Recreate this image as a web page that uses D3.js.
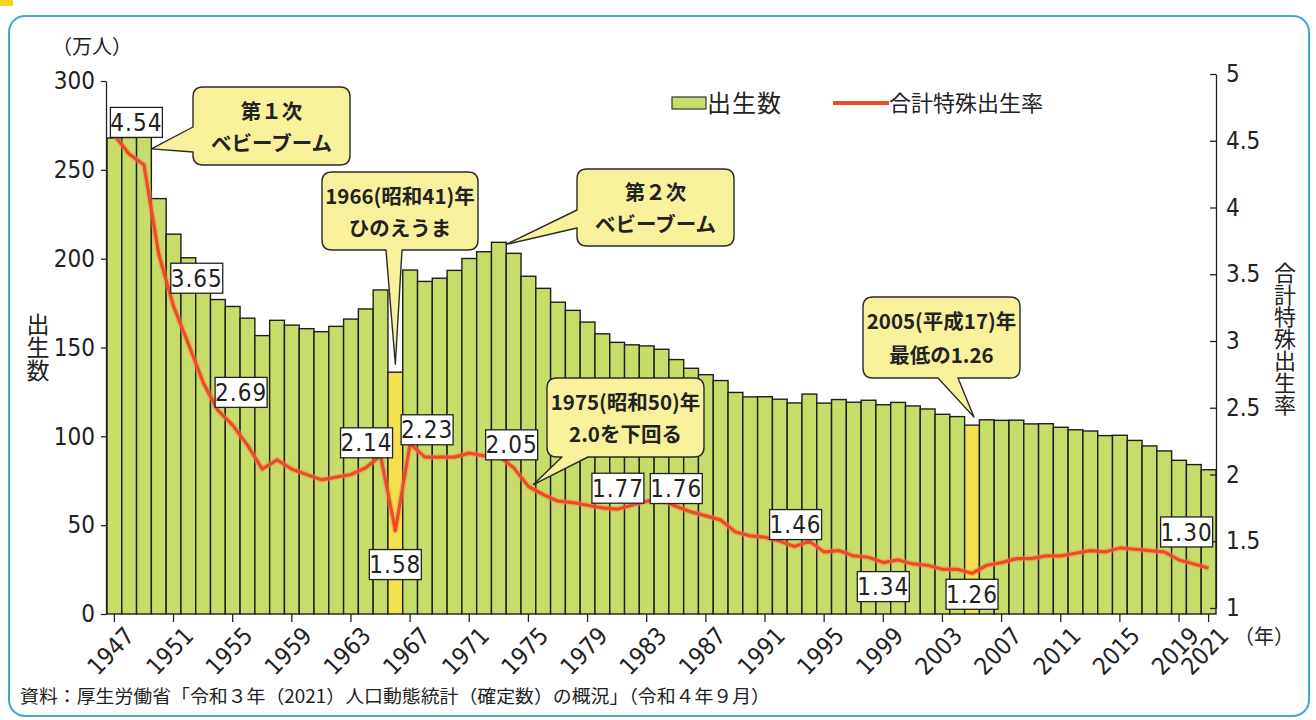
<!DOCTYPE html>
<html><head><meta charset="utf-8">
<script src="https://cdn.jsdelivr.net/npm/d3@7"></script>
<style>
html,body{margin:0;padding:0;background:#fff;}
svg{display:block;}
.num{font-family:"Liberation Sans Narrow","DejaVu Sans Condensed","Roboto Condensed",sans-serif;}
.jp{font-family:"Noto Sans CJK JP",sans-serif;}
</style></head><body>
<svg id="c" width="1316" height="720"></svg>
<script>
// ---------------- data ----------------
const years = [1947,1948,1949,1950,1951,1952,1953,1954,1955,1956,1957,1958,1959,1960,1961,1962,1963,1964,1965,1966,1967,1968,1969,1970,1971,1972,1973,1974,1975,1976,1977,1978,1979,1980,1981,1982,1983,1984,1985,1986,1987,1988,1989,1990,1991,1992,1993,1994,1995,1996,1997,1998,1999,2000,2001,2002,2003,2004,2005,2006,2007,2008,2009,2010,2011,2012,2013,2014,2015,2016,2017,2018,2019,2020,2021];
// 出生数（万人）
const births = [267.9,268.2,269.7,233.8,213.8,200.5,186.8,177.0,173.1,166.5,156.7,165.3,162.6,160.6,158.9,161.9,166.0,171.7,182.4,136.1,193.6,187.2,189.0,193.4,200.1,203.9,209.2,203.0,190.1,183.3,175.5,170.9,164.3,157.7,152.9,151.5,150.9,149.0,143.2,138.3,134.7,131.4,124.7,122.2,122.3,120.9,118.8,123.8,118.7,120.7,119.2,120.3,117.8,119.1,117.1,115.4,112.4,111.1,106.3,109.3,109.0,109.1,107.0,107.1,105.1,103.7,103.0,100.4,100.6,97.7,94.6,91.8,86.5,84.1,81.2];
// 合計特殊出生率
const tfr = [4.54,4.40,4.32,3.65,3.26,2.98,2.69,2.48,2.37,2.22,2.04,2.11,2.04,2.00,1.96,1.98,2.00,2.05,2.14,1.58,2.23,2.13,2.13,2.13,2.16,2.14,2.14,2.05,1.91,1.85,1.80,1.79,1.77,1.75,1.74,1.77,1.80,1.81,1.76,1.72,1.69,1.66,1.57,1.54,1.53,1.50,1.46,1.50,1.42,1.43,1.39,1.38,1.34,1.36,1.33,1.32,1.29,1.29,1.26,1.32,1.34,1.37,1.37,1.39,1.39,1.41,1.43,1.42,1.45,1.44,1.43,1.42,1.36,1.33,1.30];
const tickYears = [1947,1951,1955,1959,1963,1967,1971,1975,1979,1983,1987,1991,1995,1999,2003,2007,2011,2015,2019,2021];
const leftTicks = [0,50,100,150,200,250,300];
const rightTicks = [1,1.5,2,2.5,3,3.5,4,4.5,5];
const highlightYears = [1966,2005];
const labelYears = [1947,1950,1953,1965,1966,1967,1974,1982,1985,1993,1999,2005,2021];
const calloutTexts = [
  ["第１次","ベビーブーム"],
  ["1966(昭和41)年","ひのえうま"],
  ["第２次","ベビーブーム"],
  ["1975(昭和50)年","2.0を下回る"],
  ["2005(平成17)年","最低の1.26"]
];
const legendNames = ["出生数","合計特殊出生率"];
const sourceText = "資料：厚生労働省「令和３年（2021）人口動態統計（確定数）の概況」（令和４年９月）";

// ---------------- layout ----------------
const labelOffsets = [[22,-13],[38,24],[38,10],[-14,-13],[0,34],[17,-14],[-2,-23],[-14,-17],[0,-18],[1,-22],[0,24],[0,21],[-22,-36]];
const GREEN = "#c6de69", YELLOW = "#f4e04c", RED = "#ee4a26", CALL = "#f8f19c";

const svg = d3.select("#c");
const x = d3.scaleBand().domain(years).range([107,1216]).padding(0);
const bw = x.bandwidth();
const yL = d3.scaleLinear().domain([0,300]).range([614,81]);
const yR = d3.scaleLinear().domain([1,5]).range([608,74]);

// frame
svg.append("rect").attr("x",9).attr("y",16).attr("width",1300).attr("height",700)
  .attr("rx",16).attr("fill","#fff").attr("stroke","#4aa3d8").attr("stroke-width",2);
svg.append("rect").attr("x",0).attr("y",0).attr("width",13).attr("height",6).attr("fill","#f1d21c");

// bars
const data = years.map((yr,i)=>({year:yr,b:births[i],t:tfr[i]}));
svg.append("g").selectAll("rect").data(data).join("rect")
  .attr("x",d=>x(d.year)).attr("y",d=>yL(d.b))
  .attr("width",bw).attr("height",d=>yL(0)-yL(d.b))
  .attr("fill",d=>highlightYears.includes(d.year)?YELLOW:GREEN)
  .attr("stroke","#1e1e1e").attr("stroke-width",1.4);

// left axis
const gl = svg.append("g").attr("transform","translate(106,0)")
  .call(d3.axisLeft(yL).tickValues(leftTicks).tickSizeInner(5).tickSizeOuter(0).tickPadding(6));
gl.selectAll("path,line").attr("stroke","#222").attr("stroke-width",1.3);
gl.selectAll("text").attr("class","num").attr("font-size",24).attr("fill","#222");

// right axis
const gr = svg.append("g").attr("transform","translate(1216,0)")
  .call(d3.axisRight(yR).tickValues(rightTicks).tickSizeInner(-6).tickSizeOuter(0).tickPadding(10)
    .tickFormat(d=>d%1===0?String(d):d.toFixed(1)));
gr.selectAll("path,line").attr("stroke","#222").attr("stroke-width",1.3);
gr.selectAll("text").attr("class","num").attr("font-size",24).attr("fill","#222");

// x ticks
const gx = svg.append("g");
gx.selectAll("line").data(tickYears).join("line")
  .attr("x1",d=>x(d)+bw/2).attr("x2",d=>x(d)+bw/2)
  .attr("y1",yL(0)).attr("y2",yL(0)+8).attr("stroke","#222").attr("stroke-width",1.3);
gx.selectAll("text").data(tickYears).join("text")
  .attr("class","num").attr("font-size",24).attr("fill","#222")
  .attr("text-anchor","end")
  .attr("transform",d=>`translate(${x(d)+bw/2+9},${yL(0)+11}) rotate(-46)`)
  .attr("dy","0.72em")
  .text(d=>d);

// TFR line
const line = d3.line().x(d=>x(d.year)+bw/2).y(d=>yR(d.t));
svg.append("path").datum(data).attr("d",line).attr("fill","none")
  .attr("stroke","#f58a5a").attr("stroke-opacity",0.45).attr("stroke-width",6).attr("stroke-linejoin","round");
svg.append("path").datum(data).attr("d",line).attr("fill","none")
  .attr("stroke",RED).attr("stroke-width",3.2).attr("stroke-linejoin","round");

// value labels
labelYears.forEach((yr,i)=>{
  const v = tfr[years.indexOf(yr)];
  const cx = x(yr)+bw/2+labelOffsets[i][0], cy = yR(v)+labelOffsets[i][1];
  const g = svg.append("g");
  g.append("rect").attr("x",cx-26).attr("y",cy-15).attr("width",52).attr("height",30)
    .attr("fill","#fff").attr("stroke","#222").attr("stroke-width",1.3);
  g.append("text").attr("class","num").attr("x",cx).attr("y",cy).attr("dy","0.36em")
    .attr("text-anchor","middle").attr("font-size",24).attr("fill","#222").attr("letter-spacing",1)
    .text(v.toFixed(2));
});

// callouts
function calloutPath(b, side, a1, a2, tx, ty){
  const r=10, X=b.x, Y=b.y, W=b.w, H=b.h;
  if(side==="bottom"){
    return `M${X+r},${Y} H${X+W-r} Q${X+W},${Y} ${X+W},${Y+r} V${Y+H-r} Q${X+W},${Y+H} ${X+W-r},${Y+H} H${a2} L${tx},${ty} L${a1},${Y+H} H${X+r} Q${X},${Y+H} ${X},${Y+H-r} V${Y+r} Q${X},${Y} ${X+r},${Y} Z`;
  }
  return `M${X+r},${Y} H${X+W-r} Q${X+W},${Y} ${X+W},${Y+r} V${Y+H-r} Q${X+W},${Y+H} ${X+W-r},${Y+H} H${X+r} Q${X},${Y+H} ${X},${Y+H-r} V${a2} L${tx},${ty} L${X},${a1} V${Y+r} Q${X},${Y} ${X+r},${Y} Z`;
}
const callouts = [
  {box:{x:193,y:87,w:157,h:78}, side:"left", a:[127,152], tip:[x(1949)+bw, yL(births[years.indexOf(1949)])+14]},
  {box:{x:322,y:172,w:156,h:78}, side:"bottom", a:[386,402], tip:[x(1966)+bw/2, yL(births[years.indexOf(1966)])-8]},
  {box:{x:577,y:169,w:157,h:77}, side:"left", a:[210,228], tip:[x(1973)+bw, yL(births[years.indexOf(1973)])+2]},
  {box:{x:547,y:378,w:157,h:79}, side:"bottom", a:[562,588], tip:[x(1975)+bw/2+5, yR(tfr[years.indexOf(1975)])-2]},
  {box:{x:863,y:297,w:157,h:81}, side:"bottom", a:[938,958], tip:[x(2005)+bw/2+2, yL(births[years.indexOf(2005)])-8]}
];
callouts.forEach((c,i)=>{
  const g = svg.append("g");
  g.append("path").attr("d",calloutPath(c.box,c.side,c.a[0],c.a[1],c.tip[0],c.tip[1]))
    .attr("fill",CALL).attr("stroke","#2a2a2a").attr("stroke-width",1.4).attr("stroke-linejoin","round");
  calloutTexts[i].forEach((t,j)=>{
    g.append("text").attr("class","jp").attr("x",c.box.x+c.box.w/2)
      .attr("y",c.box.y+c.box.h*(j===0?0.31:0.72)).attr("dy","0.36em")
      .attr("text-anchor","middle").attr("font-size",20.5).attr("font-weight",700).attr("fill","#222")
      .text(t);
  });
});

// legend
const lg = svg.append("g");
lg.append("rect").attr("x",672).attr("y",97).attr("width",34).attr("height",12)
  .attr("fill",GREEN).attr("stroke","#333").attr("stroke-width",1.2);
lg.append("text").attr("class","jp").attr("x",707).attr("y",103).attr("dy","0.36em")
  .attr("font-size",24).attr("fill","#222").attr("letter-spacing",1).text(legendNames[0]);
lg.append("line").attr("x1",833).attr("x2",889).attr("y1",103).attr("y2",103)
  .attr("stroke",RED).attr("stroke-width",4);
lg.append("text").attr("class","jp").attr("x",889).attr("y",103).attr("dy","0.36em")
  .attr("font-size",22).attr("fill","#222").text(legendNames[1]);

// axis titles
svg.append("text").attr("class","jp").attr("x",52).attr("y",47).attr("dy","0.36em")
  .attr("font-size",20).attr("fill","#222").text("（万人）");
svg.append("text").attr("class","jp").attr("x",38).attr("y",313)
  .attr("font-size",23).attr("fill","#222").style("writing-mode","vertical-rl").text("出生数");
svg.append("text").attr("class","jp").attr("x",1285).attr("y",262)
  .attr("font-size",22).attr("fill","#222").style("writing-mode","vertical-rl").text("合計特殊出生率");
svg.append("text").attr("class","jp").attr("x",1234).attr("y",637).attr("dy","0.36em")
  .attr("font-size",20).attr("fill","#222").text("（年）");

// source
svg.append("text").attr("class","jp").attr("x",20).attr("y",697).attr("dy","0.36em")
  .attr("font-size",18).attr("fill","#222").attr("textLength",750).attr("lengthAdjust","spacingAndGlyphs")
  .text(sourceText);
</script>
</body></html>
